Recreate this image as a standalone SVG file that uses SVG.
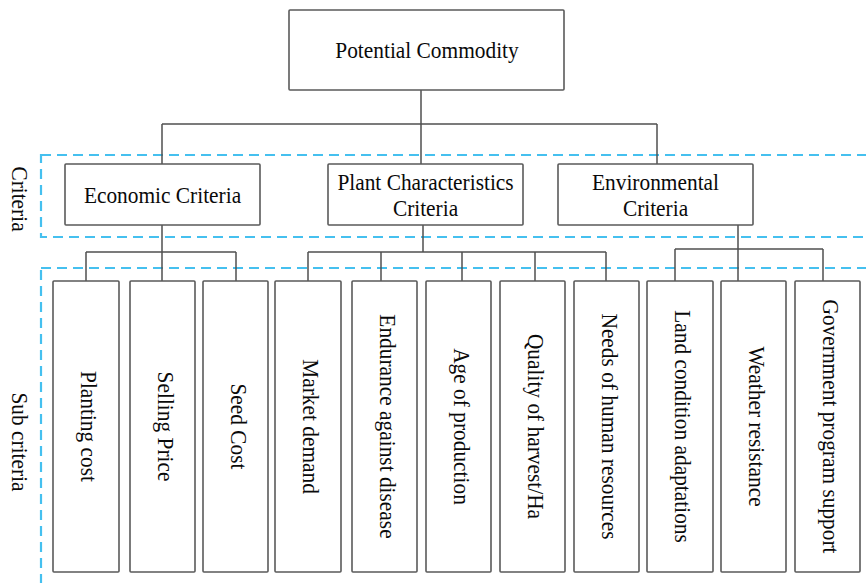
<svg xmlns="http://www.w3.org/2000/svg" width="866" height="583" viewBox="0 0 866 583">
<style>
.bg{fill:#ffffff}
.box{fill:#ffffff;stroke:#5a5a5a;stroke-width:1.6}
.con{fill:none;stroke:#505050;stroke-width:1.5}
.zone{fill:none;stroke:#45c0ef;stroke-width:2.2;stroke-dasharray:10 6}
text{font-family:"Liberation Serif","Times New Roman",serif;font-size:23px;fill:#0a0a0a;text-anchor:middle}
</style>
<rect class="bg" x="0" y="0" width="866" height="583"/>
<g id="zones">
<rect class="zone" x="41" y="155" width="850" height="82"/>
<rect class="zone" x="41" y="268" width="850" height="340"/>
<text transform="translate(12,199) rotate(90) scale(0.93,1)">Criteria</text>
<text transform="translate(12,442) rotate(90) scale(0.93,1)">Sub criteria</text>
</g>
<g id="connectors">
<path class="con" d="M421 90V164M162 124H657M162 124V164M657 124V164"/>
<path class="con" d="M162 225V281M86 252H236M86 252V281M236 252V281"/>
<path class="con" d="M423 225V252M308 252H606M308 252V281M381 252V281M462 252V281M535 252V281M606 252V281"/>
<path class="con" d="M738 225V281M675 249H823M675 249V281M823 249V281"/>
</g>
<g id="root"><rect class="box" x="289" y="10" width="275" height="80" rx="1"/><text transform="translate(427,57.5) scale(0.93,1)">Potential Commodity</text></g>
<g id="economic"><rect class="box" x="65" y="164" width="195" height="61" rx="1"/><text transform="translate(162.5,203) scale(0.93,1)">Economic Criteria</text></g>
<g id="plant"><rect class="box" x="328" y="164" width="195" height="61" rx="1"/><text transform="translate(425.5,190) scale(0.93,1)">Plant Characteristics</text><text transform="translate(425.5,216) scale(0.93,1)">Criteria</text></g>
<g id="environmental"><rect class="box" x="558" y="164" width="195" height="61" rx="1"/><text transform="translate(655.5,190) scale(0.93,1)">Environmental</text><text transform="translate(655.5,216) scale(0.93,1)">Criteria</text></g>
<g id="planting"><rect class="box" x="53" y="281" width="66" height="291" rx="1"/><text transform="translate(81,426.5) rotate(90) scale(0.93,1)">Planting cost</text></g>
<g id="selling"><rect class="box" x="130" y="281" width="65" height="291" rx="1"/><text transform="translate(157.5,426.5) rotate(90) scale(0.93,1)">Selling Price</text></g>
<g id="seed"><rect class="box" x="203" y="281" width="65" height="291" rx="1"/><text transform="translate(230.5,426.5) rotate(90) scale(0.93,1)">Seed Cost</text></g>
<g id="market"><rect class="box" x="275" y="281" width="66" height="291" rx="1"/><text transform="translate(303,426.5) rotate(90) scale(0.93,1)">Market demand</text></g>
<g id="endurance"><rect class="box" x="352" y="281" width="65" height="291" rx="1"/><text transform="translate(379.5,426.5) rotate(90) scale(0.93,1)">Endurance against disease</text></g>
<g id="age"><rect class="box" x="426" y="281" width="65" height="291" rx="1"/><text transform="translate(453.5,426.5) rotate(90) scale(0.93,1)">Age of production</text></g>
<g id="quality"><rect class="box" x="500" y="281" width="65" height="291" rx="1"/><text transform="translate(527.5,426.5) rotate(90) scale(0.93,1)">Quality of harvest/Ha</text></g>
<g id="needs"><rect class="box" x="574" y="281" width="65" height="291" rx="1"/><text transform="translate(601.5,426.5) rotate(90) scale(0.93,1)">Needs of human resources</text></g>
<g id="land"><rect class="box" x="647" y="281" width="66" height="291" rx="1"/><text transform="translate(675,426.5) rotate(90) scale(0.93,1)">Land condition adaptations</text></g>
<g id="weather"><rect class="box" x="721" y="281" width="65" height="291" rx="1"/><text transform="translate(748.5,426.5) rotate(90) scale(0.93,1)">Weather resistance</text></g>
<g id="government"><rect class="box" x="795" y="281" width="65" height="291" rx="1"/><text transform="translate(822.5,426.5) rotate(90) scale(0.93,1)">Government program support</text></g>
</svg>
